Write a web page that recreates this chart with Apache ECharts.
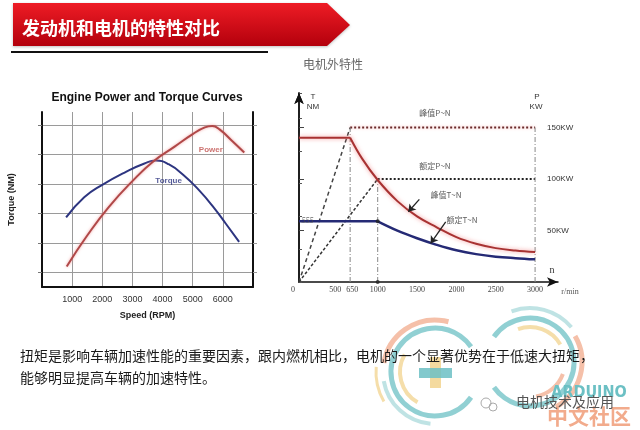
<!DOCTYPE html>
<html><head><meta charset="utf-8">
<script src="https://cdn.jsdelivr.net/npm/echarts@6/dist/echarts.min.js"></script>
<style>html,body{margin:0;padding:0;background:#fff}#c{width:640px;height:430px}</style>
</head><body><div id="c"></div>
<script>
// ---- left chart (engine) ----
const engineXTicks = [1000, 2000, 3000, 4000, 5000, 6000];
const torqueRpm = [800, 1400, 2000, 2800, 3400, 3770, 4200, 4700, 5200, 5700, 6100, 6540];
const torqueVal = [4.73, 6.1, 6.95, 7.85, 8.4, 8.6, 8.35, 7.6, 6.6, 5.4, 4.3, 3.07];
const powerRpm = [820, 1500, 2200, 3000, 3700, 4400, 5000, 5400, 5650, 5900, 6300, 6710];
const powerVal = [1.4, 3.5, 5.4, 7.2, 8.55, 9.55, 10.4, 10.85, 10.95, 10.7, 9.95, 9.15];
// ---- right chart (motor) ----
const motorXTicks = [0, 500, 650, 1000, 1500, 2000, 2500, 3000];
const powerTicks = [50, 100, 150];
const peakTRpm = [0, 650, 800, 1000, 1250, 1500, 1750, 2000, 2250, 2500, 2750, 3000];
const peakTVal = [1320, 1320, 1131, 933, 740, 600, 500, 410, 350, 310, 288, 274];
const ratedTRpm = [0, 1000, 1250, 1500, 1750, 2000, 2250, 2500, 2750, 3000];
const ratedTVal = [555, 555, 470, 400, 340, 290, 255, 232, 218, 207];
const peakPRpm = [0, 650, 3000];
const peakPVal = [0, 150, 150];
const ratedPRpm = [0, 1000, 3000];
const ratedPVal = [0, 100, 100];
const guideRpm = [650, 1000, 3000];
const guideTopP = [150, 100, 150];
// texts
const bannerText = '发动机和电机的特性对比';
const bodyLines = ['扭矩是影响车辆加速性能的重要因素，跟内燃机相比，电机的一个显著优势在于低速大扭矩，', '能够明显提高车辆的加速特性。'];

const zip = (a, b) => a.map((v, i) => [v, b[i]]);
const chart = echarts.init(document.getElementById('c'));
const cjk = '"Noto Sans CJK SC", sans-serif';
const plain = v => String(v);
const motorLabel = v => v === 0 ? '{z|0}' : v === 500 ? '{l|500}' : v === 650 ? '{r|650}' : String(v);

function labelPoint(xi, yi, x, y, text, style) {
  return {
    type: 'scatter', xAxisIndex: xi, yAxisIndex: yi, symbolSize: 0, silent: true, z: 5,
    data: [{ value: [x, y] }],
    label: Object.assign({ show: true, position: 'inside', formatter: text, fontSize: 8, color: '#333', fontFamily: cjk }, style)
  };
}
const peakTStyle = { color: '#a83232', width: 2, shadowColor: 'rgba(240,120,120,0.8)', shadowBlur: 4 };
const ratedTStyle = { color: '#252a75', width: 2.5 };
const arrowLine = (a, b) => ({ silent: true, symbol: ['none', 'arrow'], symbolSize: 7, label: { show: false }, animation: false,
  lineStyle: { color: '#222', width: 1.3, type: 'solid' }, data: [[{ coord: a }, { coord: b }]] });

const series = [
  { type: 'line', name: 'Torque', xAxisIndex: 0, yAxisIndex: 0, data: zip(torqueRpm, torqueVal), smooth: 0.5, showSymbol: false,
    lineStyle: { color: '#2d3580', width: 2 } },
  { type: 'line', name: 'Power', xAxisIndex: 0, yAxisIndex: 0, data: zip(powerRpm, powerVal), smooth: 0.5, showSymbol: false,
    lineStyle: { color: '#b04848', width: 2, shadowColor: 'rgba(240,140,140,0.8)', shadowBlur: 3 } },
  labelPoint(0, 0, 5600, 9.3, 'Power', { color: '#c0504d', fontWeight: 'bold', fontFamily: 'Liberation Sans' }),
  labelPoint(0, 0, 4200, 7.2, 'Torque', { color: '#2d3580', fontWeight: 'bold', fontFamily: 'Liberation Sans' }),

  // motor power guide lines
  { type: 'line', xAxisIndex: 2, yAxisIndex: 3, data: zip(peakPRpm.slice(0, 2), peakPVal.slice(0, 2)), showSymbol: false,
    lineStyle: { color: '#444', width: 1.5, type: [4, 3] } },
  { type: 'line', xAxisIndex: 2, yAxisIndex: 3, data: zip(peakPRpm.slice(1), peakPVal.slice(1)), showSymbol: false,
    lineStyle: { color: '#6a2b2b', width: 2, type: [2, 2], shadowColor: 'rgba(240,120,120,0.6)', shadowBlur: 3 } },
  { type: 'line', xAxisIndex: 2, yAxisIndex: 3, data: zip(ratedPRpm.slice(0, 2), ratedPVal.slice(0, 2)), showSymbol: false,
    lineStyle: { color: '#333', width: 1.5, type: [3, 2] } },
  { type: 'line', xAxisIndex: 2, yAxisIndex: 3, data: zip(ratedPRpm.slice(1), ratedPVal.slice(1)), showSymbol: false,
    lineStyle: { color: '#222', width: 2, type: [2, 2] } },
  ...guideRpm.map((r, i) => ({ type: 'line', xAxisIndex: 2, yAxisIndex: 3, data: [[r, 0], [r, guideTopP[i]]], showSymbol: false,
    lineStyle: { color: '#888', width: 1, type: [5, 2, 1, 2] } })),

  // motor torque curves: flat part + falling part
  { type: 'line', xAxisIndex: 1, yAxisIndex: 2, data: zip(peakTRpm.slice(0, 2), peakTVal.slice(0, 2)), showSymbol: false, lineStyle: peakTStyle },
  { type: 'line', xAxisIndex: 1, yAxisIndex: 2, data: zip(peakTRpm.slice(1), peakTVal.slice(1)), smooth: 0.4, showSymbol: false,
    lineStyle: peakTStyle, markLine: arrowLine([1529, 756], [1389, 643]) },
  { type: 'line', xAxisIndex: 1, yAxisIndex: 2, data: zip(ratedTRpm.slice(0, 2), ratedTVal.slice(0, 2)), showSymbol: false, lineStyle: ratedTStyle },
  { type: 'line', xAxisIndex: 1, yAxisIndex: 2, data: zip(ratedTRpm.slice(1), ratedTVal.slice(1)), smooth: 0.4, showSymbol: false,
    lineStyle: ratedTStyle, markLine: arrowLine([1864, 551], [1673, 354]) },
  { type: 'scatter', xAxisIndex: 1, yAxisIndex: 2, symbolSize: 4, itemStyle: { color: '#222' }, data: [[1000, 555], [1000, 0]], z: 4 },
  labelPoint(2, 3, 1728, 164, '峰值P~N'),
  labelPoint(2, 3, 1728, 113, '额定P~N'),
  labelPoint(1, 2, 1868, 796, '峰值T~N'),
  labelPoint(1, 2, 2071, 567, '额定T~N'),
  labelPoint(1, 2, 108, 555, '555', { fontFamily: 'Liberation Serif', fontStyle: 'italic', color: '#444' })
];

const txt = (x, y, text, font, fill, align, extra) => Object.assign({
  type: 'text', x, y, silent: true, z: 10,
  style: { text, font, fill, align: align || 'center', verticalAlign: 'middle' }
}, extra || {});

const wm = [];
const arc = (cx, cy, r, a0, a1, color, lw) => wm.push({ type: 'arc', silent: true, z: 1,
  shape: { cx, cy, r, startAngle: a0 * Math.PI / 180, endAngle: a1 * Math.PI / 180, clockwise: true },
  style: { stroke: color, lineWidth: lw, fill: null, opacity: 0.75 } });
const teal = '#6cc0c4', lteal = '#a9d9db', orange = '#f2ab8c', yellow = '#f2d38e';
arc(435, 372, 44, 35, 325, teal, 5);
arc(435, 372, 52, 190, 285, orange, 5);
arc(435, 372, 52, 95, 170, lteal, 4);
arc(435, 372, 35, 120, 210, yellow, 4);
arc(435, 372, 59, 150, 185, yellow, 3);
arc(530, 362, 44, 215, 505, teal, 5);
arc(530, 362, 52, 330, 420, orange, 5);
arc(530, 362, 54, 250, 320, lteal, 4);
arc(530, 362, 35, 250, 330, yellow, 4);
arc(530, 362, 35, 20, 80, orange, 4);
wm.push({ type: 'rect', silent: true, z: 1, shape: { x: 430, y: 357, width: 11, height: 31 }, style: { fill: yellow, opacity: 0.85 } });
wm.push({ type: 'rect', silent: true, z: 1, shape: { x: 419, y: 368, width: 33, height: 10 }, style: { fill: teal, opacity: 0.85 } });

const graphics = [
  { type: 'polygon', silent: true, z: 2,
    shape: { points: [[13, 3], [327, 3], [350, 25], [327, 46], [13, 46]] },
    style: { fill: new echarts.graphic.LinearGradient(0, 0, 0, 1, [{ offset: 0, color: '#ee1c25' }, { offset: 1, color: '#b3000c' }]),
      shadowColor: 'rgba(0,0,0,0.25)', shadowBlur: 3, shadowOffsetY: 1 } },
  txt(22, 28, bannerText, 'bold 18px ' + cjk, '#fff', 'left', { z: 11 }),
  { type: 'line', silent: true, z: 2, shape: { x1: 11, y1: 52, x2: 268, y2: 52 }, style: { stroke: '#111', lineWidth: 2 } },
  txt(147, 98, 'Engine Power and Torque Curves', 'bold 12px "Liberation Sans"', '#111'),
  txt(333, 64, '电机外特性', '12px ' + cjk, '#666'),
  txt(313, 97, 'T', '8px "Liberation Sans"', '#333'),
  txt(313, 107, 'NM', '8px "Liberation Sans"', '#333'),
  txt(537, 97, 'P', '8px "Liberation Sans"', '#333'),
  txt(536, 107, 'KW', '8px "Liberation Sans"', '#333'),
  txt(552, 270, 'n', '10px "Liberation Serif"', '#333'),
  txt(570, 292, 'r/min', '8px "Liberation Serif"', '#555'),
  txt(20, 356, bodyLines[0], '14px ' + cjk, '#1a1a1a', 'left', { z: 12 }),
  txt(20, 378, bodyLines[1], '14px ' + cjk, '#1a1a1a', 'left', { z: 12 }),
  ...wm,
  txt(589, 393, 'ARDUINO', 'bold 16px "DejaVu Sans Condensed"', teal, 'center', { z: 3 }),
  txt(589, 416, '中文社区', 'bold 21px ' + cjk, orange, 'center', { z: 3 }),
  txt(565, 402, '电机技术及应用', '14px ' + cjk, '#555', 'center', { z: 13 }),
  { type: 'circle', silent: true, z: 3, shape: { cx: 486, cy: 403, r: 5 }, style: { fill: null, stroke: '#aaa', lineWidth: 1 } },
  { type: 'circle', silent: true, z: 3, shape: { cx: 493, cy: 407, r: 4 }, style: { fill: null, stroke: '#aaa', lineWidth: 1 } }
];

const axisFont = { fontSize: 9, color: '#333', fontFamily: 'Liberation Sans' };

chart.setOption({
  animation: false,
  backgroundColor: '#fff',
  grid: [
    { left: 42, top: 112, width: 211, height: 175 },
    { left: 299, top: 93, width: 259, height: 189 },
    { left: 299, top: 93, width: 246, height: 189 }
  ],
  xAxis: [
    { gridIndex: 0, type: 'value', min: 0, max: 7000, interval: 1000,
      axisLine: { lineStyle: { color: '#111', width: 2 } }, axisTick: { show: false },
      axisLabel: Object.assign({ customValues: engineXTicks, margin: 8, formatter: plain }, axisFont),
      splitLine: { show: true, lineStyle: { color: '#9a9a9a', width: 1 } },
      name: 'Speed (RPM)', nameLocation: 'middle', nameGap: 24,
      nameTextStyle: { fontSize: 9, fontWeight: 'bold', color: '#222', fontFamily: 'Liberation Sans' } },
    { gridIndex: 1, type: 'value', min: 0, max: 3291,
      axisLine: { symbol: ['none', 'arrow'], symbolSize: [7, 11], lineStyle: { color: '#111', width: 1.5 } },
      axisTick: { show: false },
      axisLabel: { customValues: motorXTicks, formatter: motorLabel, margin: 4, fontSize: 8, color: '#444', fontFamily: 'Liberation Serif',
        rich: {
          z: { fontSize: 8, color: '#444', fontFamily: 'Liberation Serif', padding: [0, 12, 0, 0] },
          l: { fontSize: 8, color: '#444', fontFamily: 'Liberation Serif', padding: [0, 6, 0, 0] },
          r: { fontSize: 8, color: '#444', fontFamily: 'Liberation Serif', padding: [0, 0, 0, 4] }
        } },
      splitLine: { show: false } },
    { gridIndex: 2, type: 'value', min: 0, max: 3126, show: false }
  ],
  yAxis: [
    { gridIndex: 0, type: 'value', min: 0, max: 11.9, interval: 1,
      axisLine: { show: true, lineStyle: { color: '#111', width: 2 } },
      axisTick: { show: true, customValues: [1, 3, 5, 7, 9, 11], length: 4, lineStyle: { color: '#777' } },
      axisLabel: { show: false },
      splitLine: { show: true, lineStyle: { color: '#9a9a9a', width: 1 } },
      name: 'Torque (NM)', nameLocation: 'middle', nameGap: 26, nameRotate: 90,
      nameTextStyle: { fontSize: 9, fontWeight: 'bold', color: '#222', fontFamily: 'Liberation Sans' } },
    { gridIndex: 0, type: 'value', position: 'right', min: 0, max: 11.9, interval: 1,
      axisLine: { show: true, lineStyle: { color: '#111', width: 2 } },
      axisTick: { show: true, customValues: [1, 3, 5, 7, 9, 11], length: 4, lineStyle: { color: '#999' } },
      axisLabel: { show: false }, splitLine: { show: false } },
    { gridIndex: 1, type: 'value', min: 0, max: 1729, interval: 300,
      axisLine: { show: true, symbol: ['none', 'arrow'], symbolSize: [7, 11], lineStyle: { color: '#111', width: 1.5 } },
      axisTick: { show: true, inside: true, length: 3, lineStyle: { color: '#555' } },
      axisLabel: { show: false }, splitLine: { show: false } },
    { gridIndex: 2, type: 'value', position: 'right', min: 0, max: 183.5, interval: 50,
      axisLine: { show: true, symbol: ['none', 'arrow'], symbolSize: [7, 11], lineStyle: { color: '#111', width: 1.5 } },
      axisTick: { show: true, customValues: powerTicks, length: 5, lineStyle: { color: '#444' } },
      axisLabel: { customValues: powerTicks, formatter: '{value}KW', margin: 2, fontSize: 8, color: '#333', fontFamily: 'Liberation Sans Narrow, Liberation Sans' },
      splitLine: { show: false } }
  ],
  graphic: graphics,
  series
});
</script></body></html>
